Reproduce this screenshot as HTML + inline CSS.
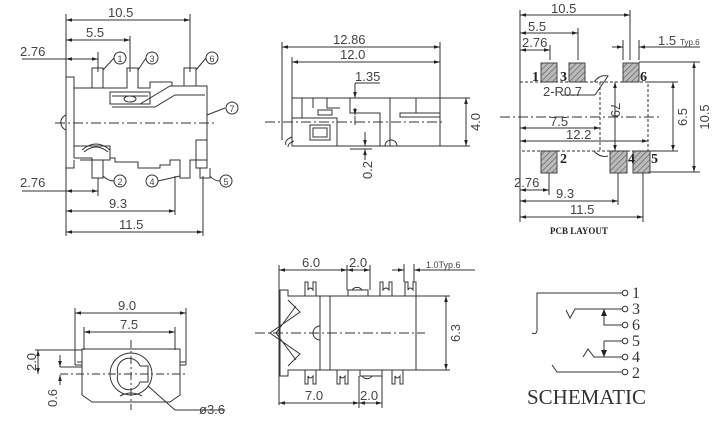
<!DOCTYPE html>
<html><head><meta charset="utf-8"><style>
html,body{margin:0;padding:0;background:#fff;width:719px;height:427px;overflow:hidden}
svg{display:block}
text{font-family:"Liberation Sans",sans-serif;fill:#444}
.serif{font-family:"Liberation Serif",serif}
</style></head><body>
<svg width="719" height="427" viewBox="0 0 719 427" xmlns="http://www.w3.org/2000/svg">
<defs>
<marker id="a" viewBox="0 0 10 10" refX="10" refY="5" markerWidth="6" markerHeight="6" orient="auto-start-reverse"><path d="M0,2 L10,5 L0,8z" fill="#222"/></marker>
<pattern id="h" width="4" height="4" patternUnits="userSpaceOnUse" patternTransform="rotate(45)"><rect width="4" height="4" fill="#bbb"/><line x1="0" y1="0" x2="0" y2="4" stroke="#555" stroke-width="1.2"/></pattern>
</defs>
<g stroke="#333" stroke-width="1" fill="none">
<line x1="66" y1="14" x2="66" y2="236"/>
<line x1="190" y1="14" x2="190" y2="72"/>
<line x1="130" y1="36" x2="130" y2="72"/>
<line x1="98" y1="52" x2="98" y2="72"/>
<line x1="66" y1="20" x2="190" y2="20" marker-start="url(#a)" marker-end="url(#a)"/>
<line x1="66" y1="40" x2="130" y2="40" marker-start="url(#a)" marker-end="url(#a)"/>
<line x1="22" y1="59" x2="98" y2="59"/>
<line x1="66" y1="59" x2="98" y2="59" marker-start="url(#a)" marker-end="url(#a)"/>
<path d="M66,77 H74 V88 H108 M74,88 V158 M66,77 V168 H74 V160"/>
<path d="M74,88 H92 V68 H103 V88 H127 V68 H138 V88 H150 V82 H172 V86 H184 V68 H196 V86 H207 V168 H196 M207,90 V165"/>
<path d="M110,92 H150 V104 H110z M112,96 H148 M115,104 H140 L170,86 H205 M112,107 H155 L175,95 H205"/>
<ellipse cx="130" cy="99" rx="6" ry="3"/>
<path d="M74,146 H110 V160 H80 M82,150 Q96,138 110,150 M84,152 Q96,142 108,152"/>
<path d="M74,158 H92 V178 H103 V160 H110 V158 H115 V162 H138 V168 H160 V165 H170 V160 H180 V178 H190 V160 H196 V168 H200 V178 H210 V168"/>
<rect x="196" y="140" width="11" height="20"/>
<path d="M66,115 A8,8 0 0 0 66,130"/>
<line x1="55" y1="123" x2="215" y2="123" stroke-dasharray="10,3,2,3"/>
<line x1="207" y1="115" x2="225" y2="108"/>
<circle cx="120" cy="58" r="6"/><circle cx="152" cy="58" r="6"/><circle cx="212" cy="58" r="6"/>
<circle cx="232" cy="108" r="6"/><circle cx="120" cy="181" r="6"/><circle cx="152" cy="181" r="6"/><circle cx="226" cy="181" r="6"/>
<path d="M103,70 L114,58 M138,70 L146,58 M196,70 L206,58 M103,176 Q108,181 114,181 M180,176 L158,181 M210,176 Q214,181 220,181"/>
<line x1="98" y1="178" x2="98" y2="196"/>
<line x1="175" y1="176" x2="175" y2="215"/>
<line x1="203" y1="176" x2="203" y2="236"/>
<line x1="22" y1="191" x2="98" y2="191"/>
<line x1="66" y1="191" x2="98" y2="191" marker-start="url(#a)" marker-end="url(#a)"/>
<line x1="66" y1="211" x2="175" y2="211" marker-start="url(#a)" marker-end="url(#a)"/>
<line x1="66" y1="232" x2="203" y2="232" marker-start="url(#a)" marker-end="url(#a)"/>

<line x1="282" y1="42" x2="282" y2="140"/>
<line x1="292" y1="57" x2="292" y2="98"/>
<line x1="440" y1="42" x2="440" y2="98"/>
<line x1="282" y1="47" x2="440" y2="47" marker-start="url(#a)" marker-end="url(#a)"/>
<line x1="292" y1="62" x2="440" y2="62" marker-start="url(#a)" marker-end="url(#a)"/>
<line x1="355" y1="83" x2="380" y2="83"/>
<line x1="355" y1="83" x2="355" y2="98" marker-end="url(#a)"/>
<rect x="292" y="98" width="148" height="48"/>
<path d="M302,98 V118 H292 M313,98 V108 M327,98 V108 H340 M302,118 H337 V146 M350,98 V113 H380 V146 M390,98 V146 M400,113 H440 V117 H400z M416,98 V113"/>
<rect x="310" y="125" width="20" height="15"/><rect x="313" y="128" width="14" height="9"/>
<rect x="318" y="110" width="14" height="5"/>
<path d="M385,146 A6,6 0 0 1 397,146"/>
<path d="M286,145 Q284,140 292,137 M288,147 Q288,143 294,141"/>
<line x1="265" y1="122" x2="445" y2="122" stroke-dasharray="10,3,2,3"/>
<line x1="355" y1="108" x2="355" y2="115" marker-end="url(#a)"/>
<line x1="355" y1="125" x2="355" y2="116" />
<line x1="365" y1="132" x2="365" y2="146" marker-end="url(#a)"/>
<line x1="365" y1="160" x2="365" y2="149" marker-end="url(#a)"/>
<line x1="350" y1="149" x2="372" y2="149"/>
<line x1="440" y1="98" x2="470" y2="98"/>
<line x1="440" y1="146" x2="470" y2="146"/>
<line x1="466" y1="98" x2="466" y2="146" marker-start="url(#a)" marker-end="url(#a)"/>

<line x1="520" y1="10" x2="520" y2="222"/>
<line x1="630" y1="10" x2="630" y2="60"/>
<line x1="578" y1="28" x2="578" y2="60"/>
<line x1="550" y1="45" x2="550" y2="60"/>
<line x1="520" y1="15" x2="630" y2="15" marker-start="url(#a)" marker-end="url(#a)"/>
<line x1="520" y1="33" x2="578" y2="33" marker-start="url(#a)" marker-end="url(#a)"/>
<line x1="520" y1="50" x2="550" y2="50" marker-start="url(#a)" marker-end="url(#a)"/>
<line x1="623" y1="40" x2="623" y2="60"/><line x1="639" y1="40" x2="639" y2="60"/>
<line x1="612" y1="47" x2="623" y2="47" marker-end="url(#a)"/>
<line x1="700" y1="47" x2="639" y2="47" marker-end="url(#a)"/>
<g stroke="#444" fill="url(#h)">
<rect x="541" y="63" width="16" height="19"/><rect x="569" y="63" width="16" height="19"/><rect x="623" y="63" width="16" height="19"/>
<rect x="541" y="151" width="16" height="22"/><rect x="610" y="151" width="17" height="22"/><rect x="633" y="151" width="17" height="22"/>
</g>
<rect x="520" y="82" width="128" height="69" stroke-dasharray="3,2"/>
<line x1="600" y1="82" x2="600" y2="151" stroke-dasharray="3,2"/>
<path d="M594,82 Q600,74 608,76 L595,95 M594,151 Q600,158 608,156" />
<line x1="563" y1="95" x2="595" y2="95"/>
<line x1="615" y1="82" x2="615" y2="151" marker-start="url(#a)" marker-end="url(#a)"/>
<line x1="500" y1="117" x2="660" y2="117" stroke-dasharray="10,3,2,3"/>
<line x1="520" y1="128" x2="600" y2="128" marker-start="url(#a)" marker-end="url(#a)"/>
<line x1="520" y1="141" x2="648" y2="141" marker-start="url(#a)" marker-end="url(#a)"/>
<line x1="648" y1="82" x2="678" y2="82"/><line x1="648" y1="151" x2="678" y2="151"/>
<line x1="639" y1="62" x2="700" y2="62"/><line x1="650" y1="172" x2="700" y2="172"/>
<line x1="673" y1="82" x2="673" y2="151" marker-start="url(#a)" marker-end="url(#a)"/>
<line x1="694" y1="62" x2="694" y2="172" marker-start="url(#a)" marker-end="url(#a)"/>
<line x1="549" y1="173" x2="549" y2="195"/>
<line x1="618" y1="173" x2="618" y2="205"/>
<line x1="643" y1="173" x2="643" y2="222"/>
<line x1="520" y1="190" x2="549" y2="190" marker-start="url(#a)" marker-end="url(#a)"/>
<line x1="520" y1="201" x2="618" y2="201" marker-start="url(#a)" marker-end="url(#a)"/>
<line x1="520" y1="217" x2="643" y2="217" marker-start="url(#a)" marker-end="url(#a)"/>

<line x1="75" y1="308" x2="75" y2="365"/><line x1="186" y1="308" x2="186" y2="365"/>
<line x1="84" y1="327" x2="84" y2="350"/><line x1="175" y1="327" x2="175" y2="350"/>
<line x1="75" y1="313" x2="186" y2="313" marker-start="url(#a)" marker-end="url(#a)"/>
<line x1="84" y1="332" x2="175" y2="332" marker-start="url(#a)" marker-end="url(#a)"/>
<path d="M82,349 H180 V395 L170,402 H92 L82,395z M75,365 H82 M180,365 H186 M77,362 H82 M180,362 H186"/>
<circle cx="131" cy="374" r="21"/>
<path d="M118,374 A8,8 0 0 1 140,366 H148 V382 H140 A8,8 0 0 1 118,374"/>
<path d="M120,396 Q131,390 142,396"/>
<line x1="131" y1="340" x2="131" y2="410" stroke-dasharray="8,3,2,3"/>
<line x1="60" y1="374" x2="185" y2="374" stroke-dasharray="8,3,2,3"/>
<line x1="148" y1="386" x2="175" y2="410"/><line x1="175" y1="410" x2="225" y2="410"/>
<line x1="35" y1="350" x2="82" y2="350"/>
<line x1="38" y1="350" x2="38" y2="374" marker-start="url(#a)" marker-end="url(#a)"/>
<line x1="60" y1="367" x2="82" y2="367"/>
<line x1="60" y1="355" x2="60" y2="367" marker-end="url(#a)"/>
<line x1="60" y1="385" x2="60" y2="375" marker-end="url(#a)"/>

<line x1="279" y1="265" x2="279" y2="405"/>
<line x1="347" y1="265" x2="347" y2="290"/>
<line x1="370" y1="265" x2="370" y2="290"/>
<line x1="279" y1="270" x2="347" y2="270" marker-start="url(#a)" marker-end="url(#a)"/>
<line x1="347" y1="270" x2="370" y2="270" marker-start="url(#a)" marker-end="url(#a)"/>
<line x1="404" y1="264" x2="404" y2="282"/><line x1="414" y1="264" x2="414" y2="282"/>
<line x1="392" y1="270" x2="404" y2="270" marker-end="url(#a)"/>
<line x1="425" y1="270" x2="414" y2="270" marker-end="url(#a)"/>
<line x1="414" y1="270" x2="475" y2="270"/>
<path d="M280,290 H288 V296 H320 V370 H288 V376 H280z"/>
<rect x="320" y="296" width="96" height="74"/>
<line x1="330" y1="296" x2="330" y2="370"/>
<path d="M288,300 L300,312 L270,333 L300,354 L288,366 M296,306 L276,333 L296,360"/>
<path d="M320,326 A7,7 0 0 0 320,340"/>
<path d="M305,282 V296 H316 V282 H313 V290 Q310,286 308,290 V282z" />
<path d="M380,282 V296 H392 V282 H389 V290 Q386,286 383,290 V282z"/>
<path d="M405,282 V296 H416 V282 H413 V290 Q410,286 408,290 V282z"/>
<path d="M348,296 V290 H368 V296 M352,290 A6,6 0 0 1 362,290"/>
<path d="M305,384 V370 H316 V384 H313 V376 Q310,380 308,376 V384z"/>
<path d="M337,384 V370 H348 V384 H345 V376 Q342,380 340,376 V384z"/>
<path d="M392,384 V370 H403 V384 H400 V376 Q397,380 395,376 V384z"/>
<path d="M360,370 V376 H382 V370 M362,376 A6,6 0 0 0 372,376"/>
<line x1="255" y1="333" x2="425" y2="333" stroke-dasharray="10,3,2,3"/>
<line x1="416" y1="296" x2="450" y2="296"/><line x1="416" y1="370" x2="450" y2="370"/>
<line x1="446" y1="296" x2="446" y2="370" marker-start="url(#a)" marker-end="url(#a)"/>
<line x1="359" y1="376" x2="359" y2="408"/><line x1="382" y1="376" x2="382" y2="408"/>
<line x1="279" y1="403" x2="359" y2="403" marker-start="url(#a)" marker-end="url(#a)"/>
<line x1="359" y1="403" x2="382" y2="403" marker-start="url(#a)" marker-end="url(#a)"/>

<path d="M537,331 V293 H622"/>
<path d="M537,331 Q536,335 532,333"/>
<path d="M566,310 L570,318 L575,309 H622"/>
<path d="M604,309 V325 H622"/>
<path d="M604,341 V357 H622 M604,341 H622"/>
<path d="M583,357 L588,349 L594,357 H604"/>
<path d="M552,365 L557,372 H622"/>
<circle cx="625" cy="293" r="2.8"/><circle cx="625" cy="309" r="2.8"/><circle cx="625" cy="325" r="2.8"/>
<circle cx="625" cy="341" r="2.8"/><circle cx="625" cy="357" r="2.8"/><circle cx="625" cy="372" r="2.8"/>
</g>
<path d="M601,316 L604,309 L607,316z M601,350 L604,357 L607,350z" fill="#222"/>

<g font-size="13">
<text x="108" y="17">10.5</text><text x="86" y="37">5.5</text><text x="20" y="56">2.76</text>
<text x="20" y="187">2.76</text><text x="109" y="208">9.3</text><text x="119" y="229">11.5</text>
<text x="333" y="44">12.86</text><text x="340" y="59">12.0</text><text x="355" y="81">1.35</text>
<text x="551" y="13">10.5</text><text x="528" y="31">5.5</text><text x="522" y="47">2.76</text>
<text x="543" y="96">2-R0.7</text><text x="550" y="126">7.5</text><text x="566" y="139">12.2</text>
<text x="514" y="187">2.76</text><text x="556" y="198">9.3</text><text x="570" y="214">11.5</text>
<text x="118" y="310">9.0</text><text x="120" y="329">7.5</text><text x="199" y="414">ø3.6</text>
<text x="302" y="267">6.0</text><text x="349" y="267">2.0</text>
<text x="305" y="400">7.0</text><text x="360" y="400">2.0</text>
</g>
<g font-size="13">
<text transform="translate(480,122) rotate(-90)" text-anchor="middle">4.0</text>
<text transform="translate(372,170) rotate(-90)" text-anchor="middle">0.2</text>
<text transform="translate(687,117) rotate(-90)" text-anchor="middle">6.5</text>
<text transform="translate(709,117) rotate(-90)" text-anchor="middle">10.5</text>
<text transform="translate(611,110) rotate(90)" text-anchor="middle">79</text>
<text transform="translate(36,362) rotate(-90)" text-anchor="middle">2.0</text>
<text transform="translate(57,398) rotate(-90)" text-anchor="middle">0.6</text>
<text transform="translate(460,333) rotate(-90)" text-anchor="middle">6.3</text>
</g>
<g font-size="9">
<text x="426" y="268">1.0Typ.6</text>
<text x="658" y="45" font-size="13">1.5</text><text x="680" y="45" font-size="8">Typ.6</text>
</g>
<g font-size="9" text-anchor="middle">
<text x="120" y="62">1</text><text x="152" y="62">3</text><text x="212" y="62">6</text><text x="232" y="112">7</text>
<text x="120" y="185">2</text><text x="152" y="185">4</text><text x="226" y="185">5</text>
</g>
<g font-size="14" font-weight="bold">
<text class="serif" x="532" y="81" style="fill:#222">1</text><text class="serif" x="560" y="81" style="fill:#222">3</text><text class="serif" x="640" y="81" style="fill:#222">6</text>
<text class="serif" x="560" y="163" style="fill:#222">2</text><text class="serif" x="628" y="163" style="fill:#222">4</text><text class="serif" x="651" y="163" style="fill:#222">5</text>
</g>
<text class="serif" x="550" y="234" font-size="9" font-weight="bold" style="fill:#222">PCB  LAYOUT</text>
<g font-size="16">
<text class="serif" x="632" y="298" style="fill:#333">1</text><text class="serif" x="632" y="314" style="fill:#333">3</text><text class="serif" x="632" y="330" style="fill:#333">6</text>
<text class="serif" x="632" y="346" style="fill:#333">5</text><text class="serif" x="632" y="362" style="fill:#333">4</text><text class="serif" x="632" y="378" style="fill:#333">2</text>
</g>
<text class="serif" x="527" y="404" font-size="21" style="fill:#333">SCHEMATIC</text>
</svg>
</body></html>
